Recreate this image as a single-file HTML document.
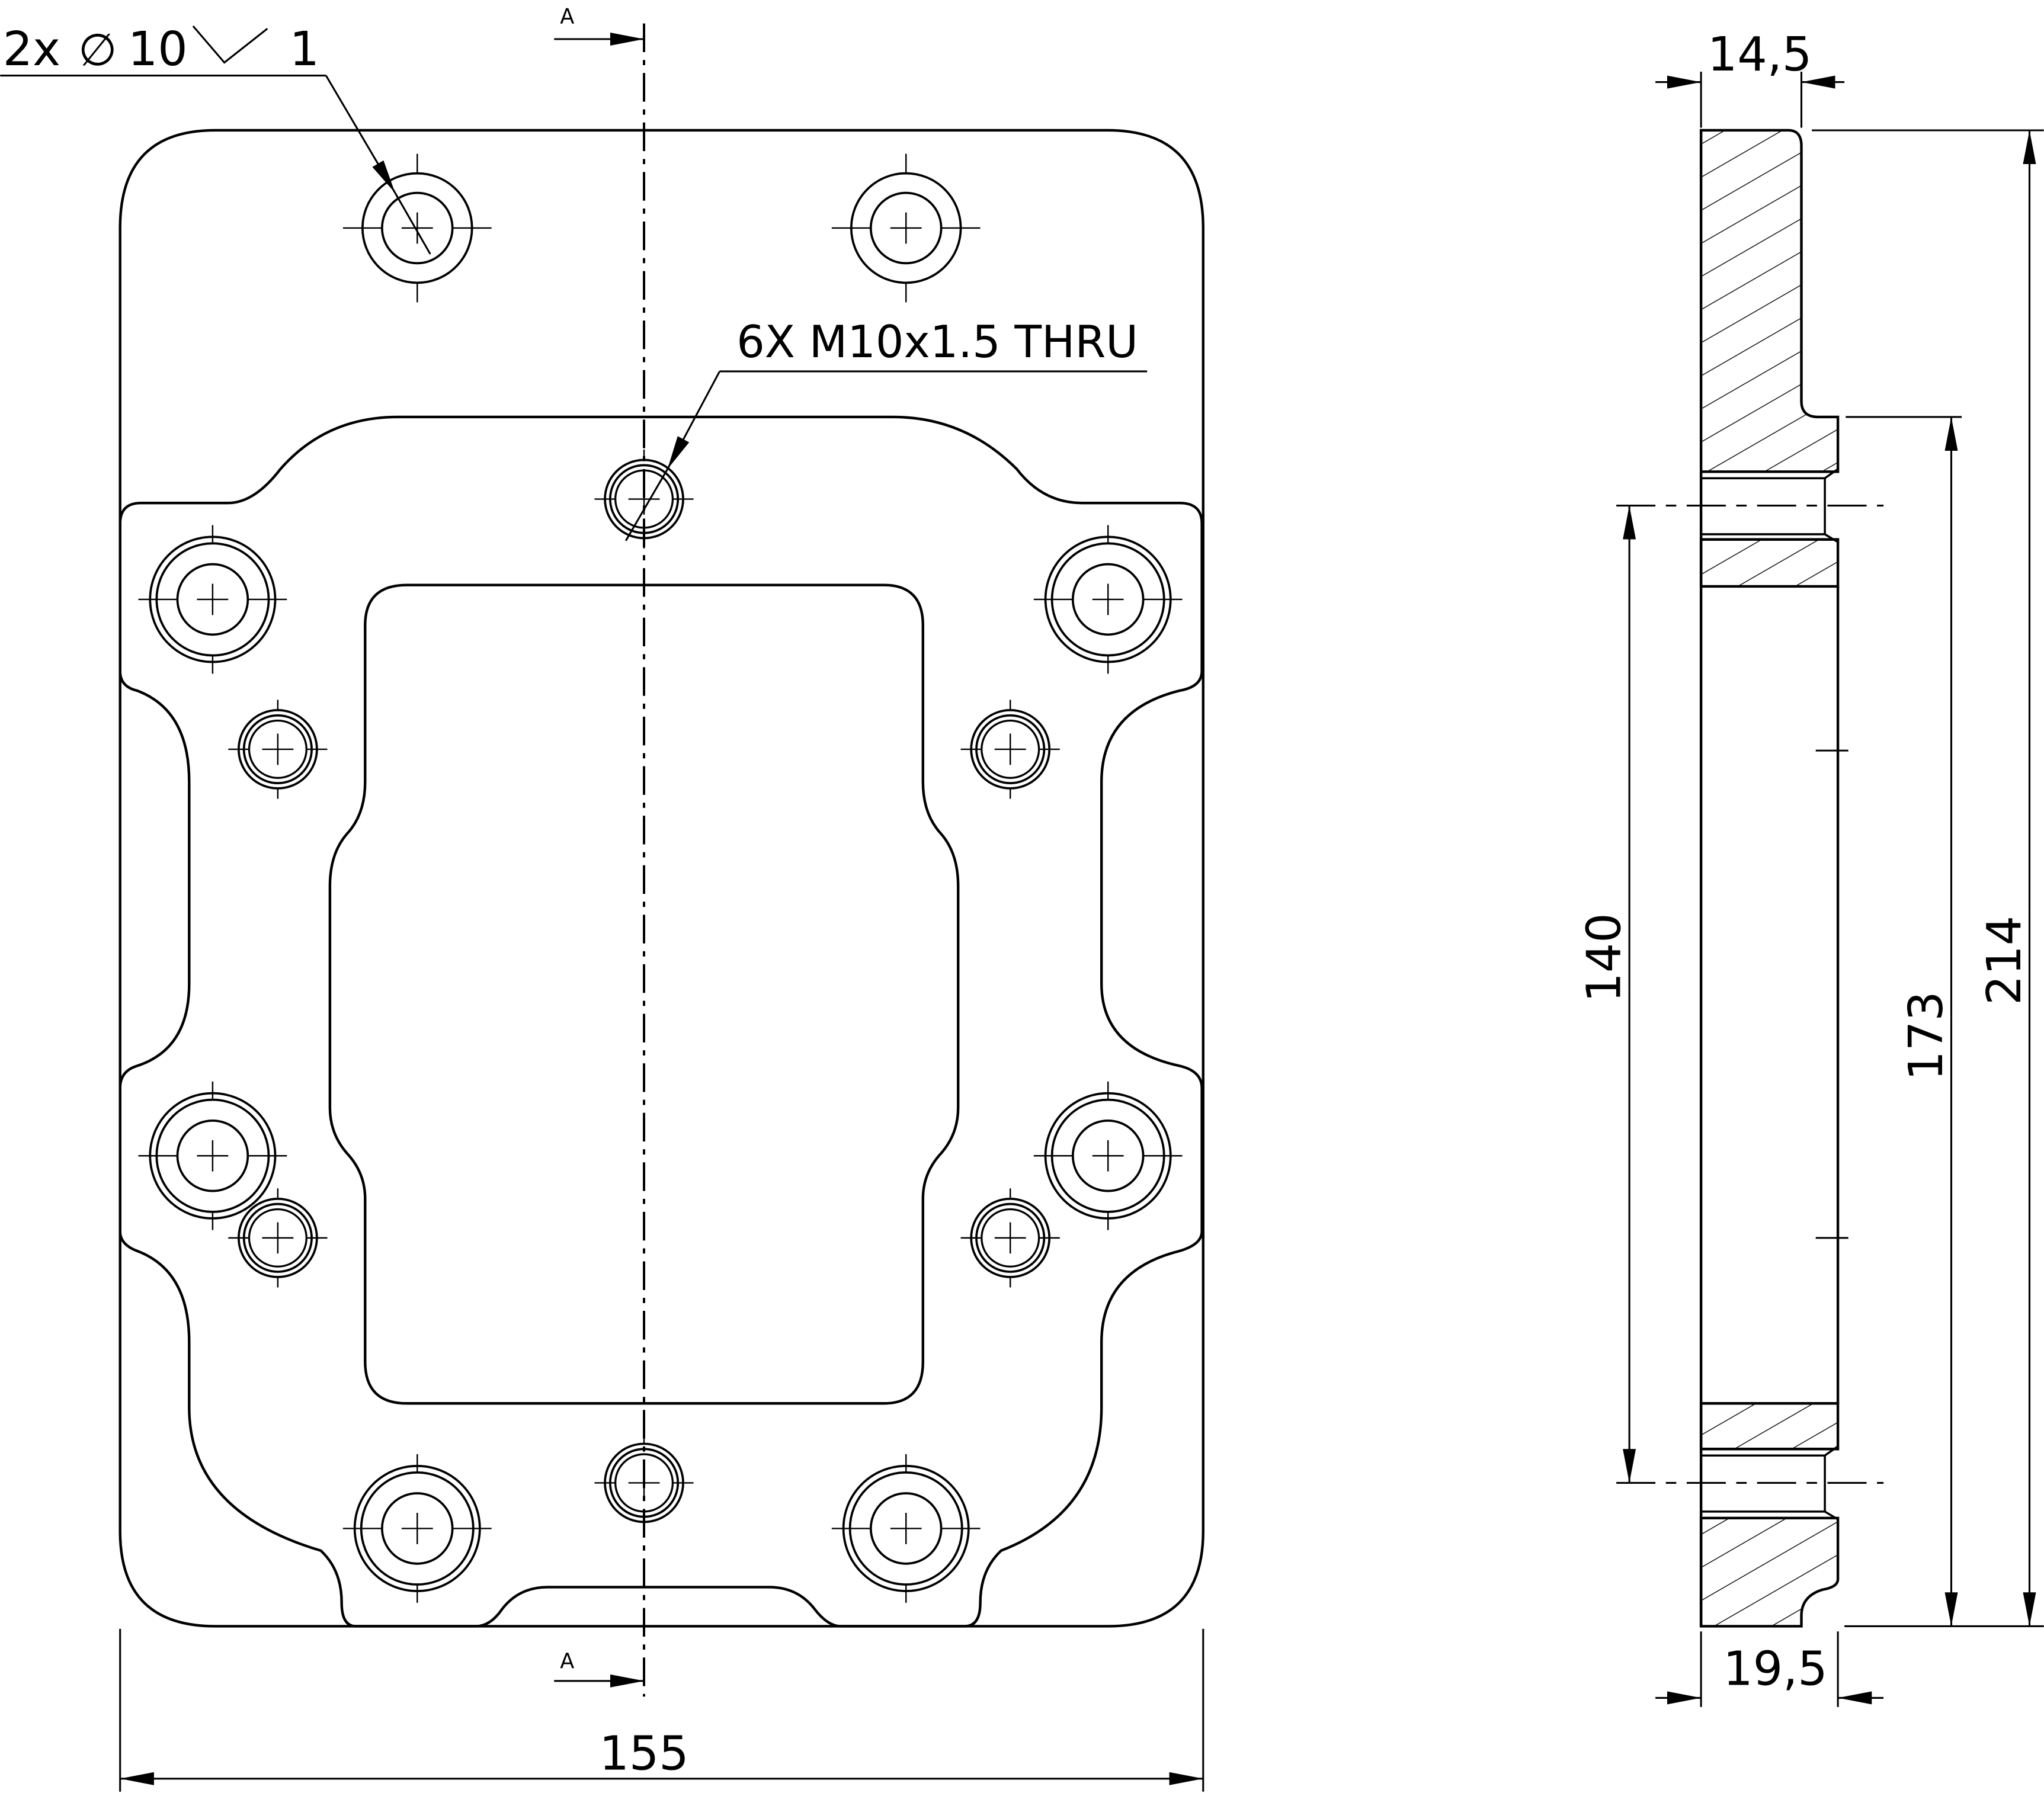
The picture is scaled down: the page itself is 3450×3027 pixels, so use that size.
<!DOCTYPE html>
<html><head><style>html,body{margin:0;padding:0;background:#fff}svg{display:block}</style></head>
<body>
<svg width="3450" height="3027" viewBox="0 0 1568 1376" xmlns="http://www.w3.org/2000/svg" font-family="'DejaVu Sans','Liberation Sans',sans-serif">
<defs>
<pattern id="h" patternUnits="userSpaceOnUse" width="22" height="22" patternTransform="rotate(-30)">
<line x1="0" y1="0" x2="22" y2="0" stroke="#000" stroke-width="1.3"/>
</pattern>
<marker id="ar" viewBox="0 0 26 10" refX="26" refY="5" markerWidth="26" markerHeight="10" markerUnits="userSpaceOnUse" orient="auto"><path d="M0,0 L26,5 L0,10 z" fill="#000"/></marker>
<g id="big" fill="none" stroke="#000" stroke-width="1.7"><circle r="48"/><circle r="43"/><circle r="27"/><path d="M-57,0H-27M27,0H57M0,-57V-43M0,43V57M-12,0H12M0,-12V12" stroke-width="1.1"/></g>
<g id="sm" fill="none" stroke="#000" stroke-width="1.7"><circle r="30"/><circle r="26"/><circle r="22" stroke-width="1.5"/><path d="M-38,0H-22M22,0H38M0,-38V-30M0,30V38M-12,0H12M0,-12V12" stroke-width="1.1"/></g>
<g id="top" fill="none" stroke="#000" stroke-width="1.7"><circle r="42"/><circle r="27"/><path d="M-57,0H-27M27,0H57M0,-57V-42M0,42V57M-12,0H12M0,-12V12" stroke-width="1.1"/></g>
</defs>
<g fill="none" stroke="#000" stroke-width="2">
<path d="M165,100 H850 Q923,100 923,175 V1175 Q923,1248 850,1248 H165 Q92,1248 92,1175 V175 Q92,100 165,100 Z"/>
<path d="M108,386 H175 Q195,386 215,360 Q250,320 305,320 H685 Q740,320 780,360 Q800,386 830,386 H905 Q922,386 922,402 V515 Q922,527 905,530 Q845,545 845,600 V755 Q845,805 905,818 Q922,822 922,835 V945 Q922,955 905,960 Q845,975 845,1030 V1080 Q845,1160 768,1190 Q752,1205 752,1230 Q752,1248 740,1248 H645 Q635,1248 625,1235 Q612,1218 590,1218 H420 Q398,1218 385,1235 Q376,1248 365,1248 H273 Q262,1248 262,1230 Q262,1205 246,1190 Q145,1160 145,1080 V1030 Q145,975 105,960 Q92,955 92,945 V835 Q92,822 105,818 Q145,805 145,755 V600 Q145,545 105,530 Q92,527 92,515 V402 Q92,386 108,386 Z"/>
<path d="M312,449 H678 Q708,449 708,480 V600 Q708,625 722,640 Q735,655 735,680 V850 Q735,870 722,885 Q708,900 708,920 V1045 Q708,1077 678,1077 H312 Q280,1077 280,1045 V920 Q280,900 266,885 Q253,870 253,850 V680 Q253,655 266,640 Q280,625 280,600 V480 Q280,449 312,449 Z"/>
</g>
<use href="#top" x="320" y="175"/><use href="#top" x="695" y="175"/>
<use href="#big" x="163" y="460"/><use href="#big" x="850" y="460"/>
<use href="#big" x="163" y="887"/><use href="#big" x="850" y="887"/>
<use href="#big" x="320" y="1173"/><use href="#big" x="695" y="1173"/>
<use href="#sm" x="213" y="575"/><use href="#sm" x="775" y="575"/>
<use href="#sm" x="213" y="950"/><use href="#sm" x="775" y="950"/>
<use href="#sm" x="494" y="383"/><use href="#sm" x="494" y="1138"/>
<line x1="494" y1="18" x2="494" y2="1302" stroke="#000" stroke-width="1.8" stroke-dasharray="22,6,4,6"/>
<g stroke="#000" stroke-width="1.4" fill="none">
<line x1="425" y1="30" x2="494" y2="30" marker-end="url(#ar)"/>
<line x1="425" y1="1290" x2="494" y2="1290" marker-end="url(#ar)"/>
<path d="M0,58 H250"/><line x1="250" y1="58" x2="303" y2="148" marker-end="url(#ar)"/>
<line x1="303" y1="148" x2="330" y2="195"/>
<path d="M880,285 H552"/><line x1="552" y1="285" x2="512" y2="360" marker-end="url(#ar)"/>
<line x1="512" y1="360" x2="480" y2="415"/>
<line x1="92" y1="1250" x2="92" y2="1375"/><line x1="923" y1="1250" x2="923" y2="1375"/>
<line x1="494" y1="1365" x2="92" y2="1365" marker-end="url(#ar)"/>
<line x1="494" y1="1365" x2="923" y2="1365" marker-end="url(#ar)"/>
<path d="M148,20 L172,48 L205,22"/>
</g>
<g font-size="36" fill="#000">
<text x="2" y="50">2x</text><text x="60" y="50" font-size="34">∅</text><text x="98" y="50">10</text><text x="222" y="50">1</text>
<text x="565" y="274" font-size="34">6X M10x1.5 THRU</text>
<text x="494" y="1358" text-anchor="middle">155</text>
<text x="435" y="18" font-size="16" text-anchor="middle">A</text>
<text x="435" y="1280" font-size="16" text-anchor="middle">A</text>
</g>
<g stroke="#000" stroke-width="2">
<path d="M1305,100 H1372 Q1382,100 1382,112 V308 Q1382,320 1395,320 H1410 V362 H1305 Z" fill="url(#h)"/>
<path d="M1305,414 H1410 V450 H1305 Z" fill="url(#h)"/>
<path d="M1305,1077 H1410 V1112 H1305 Z" fill="url(#h)"/>
<path d="M1305,1165 H1410 V1212 Q1410,1218 1398,1220 Q1382,1225 1382,1240 V1248 H1305 Z" fill="url(#h)"/>
<path d="M1305,362 V1248 M1410,450 V1077" fill="none"/>
<path d="M1305,367 H1400 V410 H1305 M1400,367 L1410,360 M1400,410 L1410,416" fill="none" stroke-width="1.6"/>
<path d="M1305,1117 H1400 V1160 H1305 M1400,1117 L1410,1110 M1400,1160 L1410,1166" fill="none" stroke-width="1.6"/>
</g>
<g stroke="#000" stroke-width="1.4" fill="none">
<line x1="1393" y1="576" x2="1418" y2="576"/><line x1="1393" y1="950" x2="1418" y2="950"/>
<line x1="1240" y1="388" x2="1445" y2="388" stroke-dasharray="30,8,8,8"/>
<line x1="1240" y1="1138" x2="1445" y2="1138" stroke-dasharray="30,8,8,8"/>
<line x1="1305" y1="55" x2="1305" y2="98"/><line x1="1382" y1="55" x2="1382" y2="98"/>
<line x1="1270" y1="63" x2="1305" y2="63" marker-end="url(#ar)"/>
<line x1="1415" y1="63" x2="1382" y2="63" marker-end="url(#ar)"/>
<line x1="1305" y1="1252" x2="1305" y2="1310"/><line x1="1410" y1="1252" x2="1410" y2="1310"/>
<line x1="1270" y1="1303" x2="1305" y2="1303" marker-end="url(#ar)"/>
<line x1="1445" y1="1303" x2="1410" y2="1303" marker-end="url(#ar)"/>
<line x1="1250" y1="760" x2="1250" y2="388" marker-end="url(#ar)"/>
<line x1="1250" y1="760" x2="1250" y2="1138" marker-end="url(#ar)"/>
<line x1="1416" y1="320" x2="1505" y2="320"/>
<line x1="1497" y1="780" x2="1497" y2="320" marker-end="url(#ar)"/>
<line x1="1497" y1="780" x2="1497" y2="1248" marker-end="url(#ar)"/>
<line x1="1390" y1="100" x2="1568" y2="100"/><line x1="1415" y1="1248" x2="1568" y2="1248"/>
<line x1="1557" y1="700" x2="1557" y2="100" marker-end="url(#ar)"/>
<line x1="1557" y1="700" x2="1557" y2="1248" marker-end="url(#ar)"/>
</g>
<g font-size="36" fill="#000" text-anchor="middle">
<text x="1350" y="54">14,5</text>
<text x="1362" y="1293">19,5</text>
<text transform="translate(1243,735) rotate(-90)">140</text>
<text transform="translate(1490,795) rotate(-90)">173</text>
<text transform="translate(1550,737) rotate(-90)">214</text>
</g>
</svg>
</body></html>
